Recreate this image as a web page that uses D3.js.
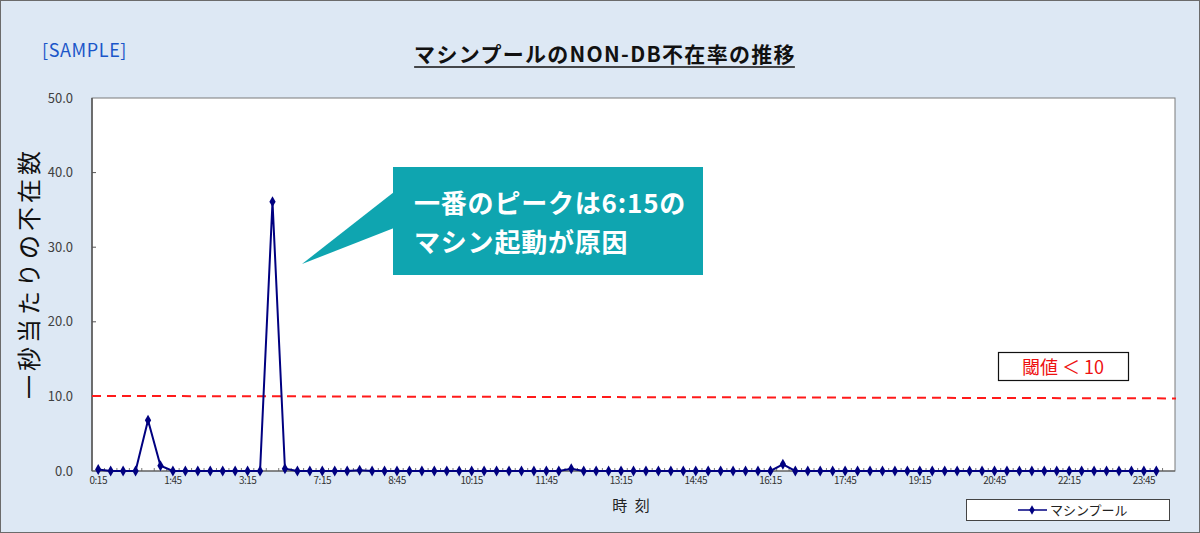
<!DOCTYPE html>
<html><head><meta charset="utf-8">
<script src="https://cdn.jsdelivr.net/npm/d3@7"></script>
<style>
html,body{margin:0;padding:0;background:#dde8f4;}
svg{display:block;}
text{font-family:"Noto Sans CJK JP","Noto Sans",sans-serif;}
</style></head><body>
<svg id="c" width="1200" height="533"></svg>
<script>
const categories = ["0:15","0:30","0:45","1:00","1:15","1:30","1:45","2:00","2:15","2:30","2:45","3:00","3:15","3:30",
"6:15","6:30","6:45","7:00","7:15","7:30","7:45","8:00","8:15","8:30","8:45","9:00","9:15","9:30","9:45","10:00",
"10:15","10:30","10:45","11:00","11:15","11:30","11:45","12:00","12:15","12:30","12:45","13:00","13:15","13:30","13:45",
"14:00","14:15","14:30","14:45","15:00","15:15","15:30","15:45","16:00","16:15","16:30","16:45","17:00","17:15","17:30",
"17:45","18:00","18:15","18:30","18:45","19:00","19:15","19:30","19:45","20:00","20:15","20:30","20:45","21:00","21:15",
"21:30","21:45","22:00","22:15","22:30","22:45","23:00","23:15","23:30","23:45","0:00",""];
const seriesValues = [0.2,0,0,0,6.8,0.7,0,0,0,0,0,0,0,0,
36.1,0.3,0,0,0,0,0,0.1,0,0,0,0,0,0,0,0,
0,0,0,0,0,0,0,0,0.3,0,0,0,0,0,0,
0,0,0,0,0,0,0,0,0,0,0.9,0,0,0,0,
0,0,0,0,0,0,0,0,0,0,0,0,0,0,0,
0,0,0,0,0,0,0,0,0,0,0,null];
const xTickLabels = ["0:15","1:45","3:15","7:15","8:45","10:15","11:45","13:15","14:45","16:15","17:45","19:15","20:45","22:15","23:45"];
const yTicks = [0,10,20,30,40,50];
const threshold = 10;
const seriesName = "マシンプール";
const titleText = "マシンプールのNON-DB不在率の推移";
const yTitle = "一秒当たりの不在数";
const xTitle = "時 刻";
const calloutLines = ["一番のピークは6:15の","マシン起動が原因"];
const thresholdLabel = "閾値 ＜ 10";

const svg = d3.select("#c");
const W=1200,H=533;
const L=92,R=1175,T=98,B=471;

svg.append("rect").attr("x",0.5).attr("y",0.5).attr("width",W-1).attr("height",H-1)
  .attr("fill","#dde8f4").attr("stroke","#6b6b6b");

const x = d3.scaleBand().domain(d3.range(categories.length)).range([L,R]);
const y = d3.scaleLinear().domain([0,50]).range([B,T]);
const cx = i => x(i)+x.bandwidth()/2;

// plot area
svg.append("rect").attr("x",L).attr("y",T).attr("width",R-L).attr("height",B-T)
  .attr("fill","#fff").attr("stroke","#7a7a7a").attr("stroke-width",1);
svg.append("line").attr("x1",L).attr("x2",L).attr("y1",T).attr("y2",B).attr("stroke","#555").attr("stroke-width",1.5);
svg.append("line").attr("x1",L).attr("x2",R).attr("y1",B).attr("y2",B).attr("stroke","#555").attr("stroke-width",1.2);

// y axis
const yAxis = d3.axisLeft(y).tickValues(yTicks).tickFormat(d3.format(".1f")).tickSize(0).tickPadding(19);
const gy = svg.append("g").attr("transform",`translate(${L},0)`).call(yAxis);
gy.select(".domain").remove();
gy.selectAll("text").attr("font-size",13).attr("fill","#404040").attr("font-family","'Noto Sans CJK JP',sans-serif");
svg.append("g").selectAll("line").data(yTicks.slice(1,-1)).join("line")
  .attr("x1",L).attr("x2",L+4).attr("y1",d=>y(d)).attr("y2",d=>y(d)).attr("stroke","#555");

// x ticks at category boundaries
svg.append("g").selectAll("line").data(d3.range(1,categories.length)).join("line")
  .attr("x1",i=>x(i)).attr("x2",i=>x(i)).attr("y1",B).attr("y2",B-3).attr("stroke","#555").attr("stroke-width",0.8);

// x labels
const xAxis = d3.axisBottom(x).tickValues(categories.map((c,i)=>i).filter(i=>xTickLabels.includes(categories[i])))
  .tickFormat(i=>categories[i]).tickSize(0).tickPadding(6);
const gx = svg.append("g").attr("transform",`translate(0,${B})`).call(xAxis);
gx.select(".domain").remove();
gx.selectAll("text").attr("font-size",10).attr("fill","#333").attr("letter-spacing","-0.5px");

// threshold line
svg.append("line").attr("x1",L).attr("x2",R+1).attr("y1",y(threshold)-0.5).attr("y2",y(threshold)+2)
  .attr("stroke","#ff1a1a").attr("stroke-width",2).attr("stroke-dasharray","9,6");

// series line
const pts = seriesValues.map((v,i)=>({i,v})).filter(d=>d.v!==null);
svg.append("path").datum(pts).attr("fill","none").attr("stroke","#000080").attr("stroke-width",2)
  .attr("d",d3.line().x(d=>cx(d.i)).y(d=>y(d.v)));
const diamond = d3.symbol().type(d3.symbolDiamond).size(34);
svg.append("g").selectAll("path").data(pts).join("path")
  .attr("transform",d=>`translate(${cx(d.i)},${y(d.v)})`).attr("d",diamond).attr("fill","#000080");

// titles
svg.append("text").attr("x",42).attr("y",57).attr("font-size",18).attr("letter-spacing","0.6px").attr("fill","#1a56c9").text("[SAMPLE]");
const tt = svg.append("text").attr("x",605).attr("y",62).attr("text-anchor","middle").attr("font-size",21)
  .attr("font-weight","bold").attr("letter-spacing","1.3px").attr("fill","#111").text(titleText);
const tb = tt.node().getBBox();
svg.append("line").attr("x1",tb.x).attr("x2",tb.x+tb.width-1).attr("y1",67).attr("y2",67).attr("stroke","#111").attr("stroke-width",1.5);

svg.append("text").attr("transform","translate(38,273) rotate(-90)").attr("text-anchor","middle")
  .attr("font-size",24).attr("letter-spacing","4px").attr("fill","#111").text(yTitle);
svg.append("text").attr("x",632).attr("y",511).attr("text-anchor","middle").attr("font-size",15).attr("letter-spacing","2px").attr("fill","#222").text(xTitle);

// callout
const teal="#0fa5b0";
svg.append("path").attr("d","M394,192 L394,228 L302,264 Z").attr("fill",teal);
svg.append("rect").attr("x",393).attr("y",167).attr("width",310).attr("height",108).attr("fill",teal);
svg.append("g").selectAll("text").data(calloutLines).join("text")
  .attr("x",414).attr("y",(d,i)=>213+i*39).attr("font-size",26).attr("font-weight","bold").attr("letter-spacing","0.8px").attr("fill","#fff").text(d=>d);

// threshold label
svg.append("rect").attr("x",998.5).attr("y",352.5).attr("width",130).attr("height",28).attr("fill","#fff").attr("stroke","#111").attr("stroke-width",1.2);
svg.append("text").attr("x",1063).attr("y",374).attr("text-anchor","middle").attr("font-size",18).attr("fill","#ee1111").text(thresholdLabel);

// legend
svg.append("rect").attr("x",966.5).attr("y",499.5).attr("width",203).attr("height",21).attr("fill","#fff").attr("stroke","#444");
svg.append("line").attr("x1",1018).attr("x2",1047).attr("y1",510).attr("y2",510).attr("stroke","#000080").attr("stroke-width",1.5);
svg.append("path").attr("transform","translate(1032,510)").attr("d",d3.symbol().type(d3.symbolDiamond).size(26)).attr("fill","#000080");
svg.append("text").attr("x",1050).attr("y",515).attr("font-size",13).attr("fill","#222").text(seriesName);
</script></body></html>
